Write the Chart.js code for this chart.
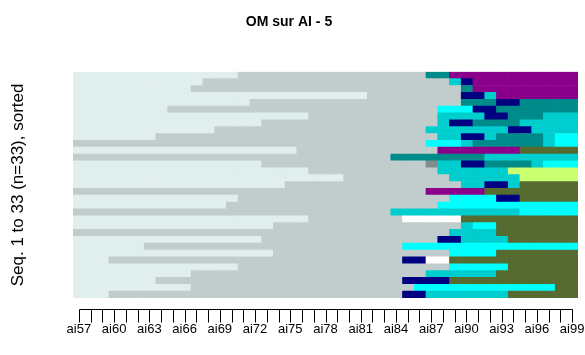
<!DOCTYPE html>
<html lang="fr">
  <head>
    <meta charset="UTF-8" />
    <script src="https://cdn.jsdelivr.net/npm/chart.js@4.4.0/dist/chart.umd.min.js"></script>
    <title>OM sur AI - 5</title>
    <style>
      body { margin: 0; background: #fff; }
    </style>
  </head>
  <body>
    <canvas id="myChart" width="585" height="355"></canvas>
    <script>
      // positions (columns) of the sequences
      const positions = [
        "ai57", "ai58", "ai59", "ai60", "ai61", "ai62", "ai63", "ai64", "ai65", "ai66",
        "ai67", "ai68", "ai69", "ai70", "ai71", "ai72", "ai73", "ai74", "ai75", "ai76",
        "ai77", "ai78", "ai79", "ai80", "ai81", "ai82", "ai83", "ai84", "ai85", "ai86",
        "ai87", "ai88", "ai89", "ai90", "ai91", "ai92", "ai93", "ai94", "ai95", "ai96",
        "ai97", "ai98", "ai99",
      ];

      // one colour per state code
      const stateColors = {
        L: "#e0eeee",
        G: "#c1cdcd",
        A: "#838b8b",
        T: "#008b8b",
        U: "#00cdcd",
        C: "#00ffff",
        N: "#000080",
        P: "#8b008b",
        O: "#556b2f",
        Y: "#caff70",
        W: "#ffffff",
      };

      // sequences, top row first, written as spells: state + length
      const sequences = [
        "L14 G16 T2 P11",
        "L11 G21 U1 N1 P9",
        "L10 G23 T1 P9",
        "L25 G8 N2 U1 P7",
        "L15 G18 T3 N2 T5",
        "L8 G23 C3 N2 T7",
        "L20 G11 U4 N2 T3 U3",
        "L16 G15 U1 N2 T4 U5",
        "L12 G18 U7 N2 U4",
        "L7 G24 U2 N2 U1 T4 U1 C2",
        "G30 C3 U1 T6 U1 C2",
        "L19 G12 P7 O5",
        "G27 T8 U8",
        "L16 G14 A1 U2 N2 T4 U1 C3",
        "L20 G11 U6 Y6",
        "L23 G9 U6 Y5",
        "L18 G15 U2 N2 U1 O5",
        "G30 P5 O8",
        "L14 G18 C4 N2 O5",
        "L13 G18 C12",
        "G27 U11 C5",
        "L20 G8 W5 O10",
        "L17 G16 U1 C2 O7",
        "G32 U4 O7",
        "L16 G15 N2 U4 O6",
        "L6 G22 C15",
        "L17 G15 C4 O7",
        "L3 G25 N2 W2 O11",
        "L14 G18 C5 O6",
        "L10 G20 U6 O7",
        "L7 G21 N4 O11",
        "L10 G19 C12 O2",
        "L3 G25 N2 U7 O6",
      ];

      const rows = sequences.map((s) => {
        const out = [];
        s.split(" ").forEach((spell) => {
          const n = parseInt(spell.slice(1));
          for (let k = 0; k < n; k++) out.push(spell[0]);
        });
        return out;
      });
      const rowLabels = sequences.map((s, i) => String(sequences.length - i));

      const sans = "'Liberation Sans', Arial, sans-serif";

      // R style axis: line from first to last tick, offset below the bars
      const rAxis = {
        id: "rAxis",
        afterDraw(chart) {
          const { ctx, chartArea } = chart;
          const x = chart.scales.x;
          const y0 = Math.round(chartArea.bottom + 11) + 0.5;
          ctx.save();
          ctx.strokeStyle = "#000";
          ctx.lineWidth = 1;
          ctx.beginPath();
          const px = positions.map((p, j) => Math.round(x.getPixelForValue(j + 0.5)) + 0.5);
          ctx.moveTo(px[0], y0);
          ctx.lineTo(px[px.length - 1], y0);
          px.forEach((v) => {
            ctx.moveTo(v, y0);
            ctx.lineTo(v, y0 + 13);
          });
          ctx.stroke();
          ctx.restore();
        },
      };

      const ctx = document.getElementById("myChart").getContext("2d");
      const myChart = new Chart(ctx, {
        type: "bar",
        plugins: [rAxis],
        data: {
          labels: rowLabels,
          datasets: positions.map((p, j) => ({
            label: p,
            data: rows.map(() => 1),
            backgroundColor: rows.map((r) => stateColors[r[j]]),
            borderWidth: 0,
            barPercentage: 1,
            categoryPercentage: 1,
          })),
        },
        options: {
          indexAxis: "y",
          responsive: false,
          animation: false,
          layout: { padding: { left: 0, right: 7, top: 0, bottom: 0 } },
          plugins: {
            legend: { display: false },
            tooltip: { enabled: false },
            title: {
              display: true,
              text: "OM sur AI - 5",
              color: "#000",
              font: { family: sans, size: 14, weight: "bold" },
              padding: { top: 14, bottom: 41 },
            },
          },
          scales: {
            x: {
              type: "linear",
              stacked: true,
              min: 0,
              max: positions.length,
              grid: { display: false, drawTicks: false },
              border: { display: false },
              afterBuildTicks: (scale) => {
                scale.ticks = positions.map((p, j) => ({ value: j + 0.5 }));
              },
              afterFit: (scale) => {
                scale.height = 57;
                scale.paddingLeft = 0;
                scale.paddingRight = 0;
              },
              ticks: {
                autoSkip: false,
                maxRotation: 0,
                minRotation: 0,
                padding: 24,
                color: "#000",
                font: { family: sans, size: 13 },
                callback: (value, index) => (index % 3 === 0 ? positions[index] : ""),
              },
            },
            y: {
              stacked: true,
              grid: { display: false, drawTicks: false },
              border: { display: false },
              ticks: { display: false },
              afterFit: (scale) => {
                scale.width = 73;
              },
              title: {
                display: true,
                text: "Seq. 1 to 33 (n=33), sorted",
                color: "#000",
                font: { family: sans, size: 17 },
                padding: { top: 8, bottom: 10 },
              },
            },
          },
        },
      });
    </script>
  </body>
